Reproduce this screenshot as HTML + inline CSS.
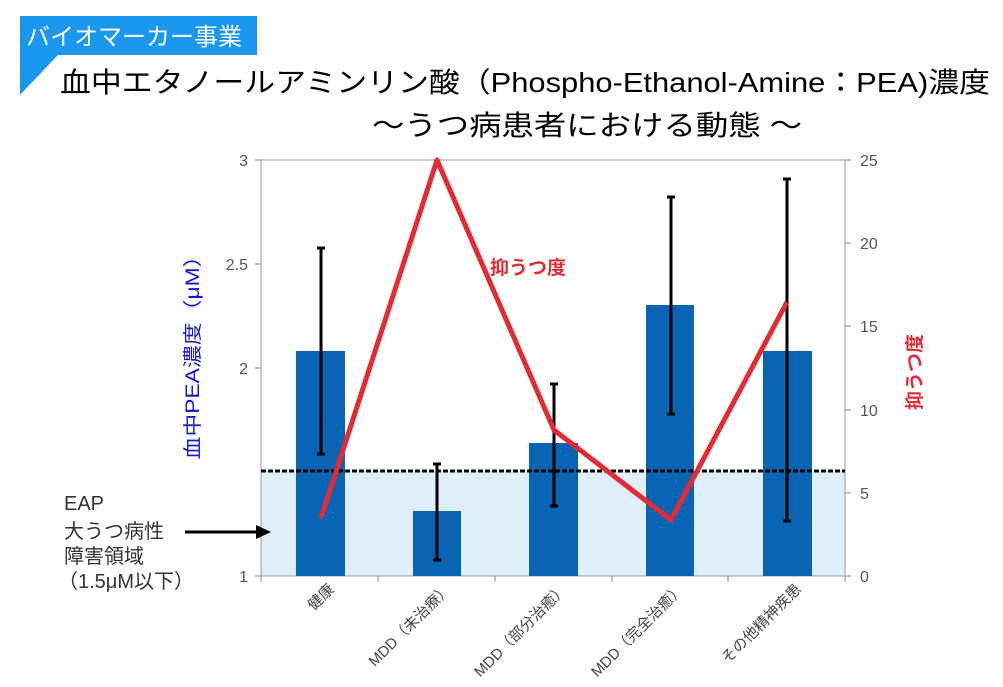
<!DOCTYPE html>
<html><head><meta charset="utf-8"><style>
html,body{margin:0;padding:0;background:#fff;}
body{width:1003px;height:687px;overflow:hidden;position:relative;font-family:"Liberation Sans","Noto Sans CJK JP",sans-serif;}
</style></head><body>
<svg width="1003" height="687" xmlns="http://www.w3.org/2000/svg" style="position:absolute;left:0;top:0" font-family="Liberation Sans, Noto Sans CJK JP, sans-serif">
<rect x="20" y="16" width="237" height="39" fill="#1a98f0"/>
<polygon points="20,55 58,55 20,95" fill="#1a98f0"/>
<text x="26" y="45" font-size="24" fill="#fff">バイオマーカー事業</text>
<text x="60" y="92" font-size="28" fill="#000" textLength="930" lengthAdjust="spacingAndGlyphs">血中エタノールアミンリン酸（Phospho-Ethanol-Amine：PEA)濃度</text>
<text x="372" y="135" font-size="28" fill="#000" textLength="430" lengthAdjust="spacingAndGlyphs">～うつ病患者における動態 ～</text>
<rect x="261" y="471" width="584" height="105" fill="#dfeffa"/>
<rect x="261" y="160" width="584" height="416" fill="none" stroke="#999" stroke-width="1"/>
<g fill="#0a64b4">
<rect x="296" y="351" width="49" height="225"/>
<rect x="413" y="511" width="48" height="65"/>
<rect x="529" y="443" width="49" height="133"/>
<rect x="646" y="305" width="48" height="271"/>
<rect x="763" y="351" width="49" height="225"/>
</g>
<line x1="261" y1="471" x2="845" y2="471" stroke="#000" stroke-width="3" stroke-dasharray="5,2"/>
<g stroke="#000" stroke-width="3">
<line x1="321" y1="248" x2="321" y2="454"/><line x1="317" y1="248" x2="325" y2="248"/><line x1="317" y1="454" x2="325" y2="454"/>
<line x1="437" y1="464" x2="437" y2="560"/><line x1="433" y1="464" x2="441" y2="464"/><line x1="433" y1="560" x2="441" y2="560"/>
<line x1="554" y1="384" x2="554" y2="506"/><line x1="550" y1="384" x2="558" y2="384"/><line x1="550" y1="506" x2="558" y2="506"/>
<line x1="671" y1="197" x2="671" y2="414"/><line x1="667" y1="197" x2="675" y2="197"/><line x1="667" y1="414" x2="675" y2="414"/>
<line x1="787" y1="179" x2="787" y2="521"/><line x1="783" y1="179" x2="791" y2="179"/><line x1="783" y1="521" x2="791" y2="521"/>
</g>
<polyline points="321,518 437,160 554,430 671,520 787,302" fill="none" stroke="#e42a34" stroke-width="5" stroke-linejoin="round"/>
<text x="490" y="274" font-size="19" font-weight="bold" fill="#e42a34">抑うつ度</text>
<g stroke="#888" stroke-width="1">
<line x1="255" y1="160" x2="261" y2="160"/><line x1="255" y1="264" x2="261" y2="264"/><line x1="255" y1="368" x2="261" y2="368"/><line x1="255" y1="576" x2="261" y2="576"/>
<line x1="845" y1="160" x2="851" y2="160"/><line x1="845" y1="243" x2="851" y2="243"/><line x1="845" y1="326" x2="851" y2="326"/><line x1="845" y1="410" x2="851" y2="410"/><line x1="845" y1="493" x2="851" y2="493"/><line x1="845" y1="576" x2="851" y2="576"/>
<line x1="261" y1="576" x2="261" y2="582"/><line x1="378" y1="576" x2="378" y2="582"/><line x1="495" y1="576" x2="495" y2="582"/><line x1="612" y1="576" x2="612" y2="582"/><line x1="728" y1="576" x2="728" y2="582"/><line x1="845" y1="576" x2="845" y2="582"/>
</g>
<g font-size="16" fill="#555" text-anchor="end">
<text x="248" y="166">3</text><text x="248" y="270">2.5</text><text x="248" y="374">2</text><text x="248" y="582">1</text>
</g>
<g font-size="16" fill="#555">
<text x="860" y="166">25</text><text x="860" y="249">20</text><text x="860" y="332">15</text><text x="860" y="416">10</text><text x="860" y="499">5</text><text x="860" y="582">0</text>
</g>
<g font-size="15" fill="#444" text-anchor="end">
<text transform="translate(335,590) rotate(-45)">健康</text>
<text transform="translate(452,590) rotate(-45)">MDD（未治療）</text>
<text transform="translate(568,590) rotate(-45)">MDD（部分治癒）</text>
<text transform="translate(685,590) rotate(-45)">MDD（完全治癒）</text>
<text transform="translate(802,590) rotate(-45)">その他精神疾患</text>
</g>
<text transform="translate(199,352) rotate(-90)" font-size="19" fill="#1515d0" text-anchor="middle" textLength="215" lengthAdjust="spacingAndGlyphs">血中PEA濃度（μM）</text>
<text transform="translate(921,372) rotate(-90)" font-size="19" font-weight="bold" fill="#e42a34" text-anchor="middle">抑うつ度</text>
<g font-size="20" fill="#333">
<text x="64" y="510">EAP</text><text x="64" y="538">大うつ病性</text><text x="64" y="563">障害領域</text><text x="58" y="588">（1.5μM以下）</text>
</g>
<line x1="185" y1="532" x2="260" y2="532" stroke="#000" stroke-width="3"/>
<polygon points="271,532 256,525 256,539" fill="#000"/>
</svg>
</body></html>
